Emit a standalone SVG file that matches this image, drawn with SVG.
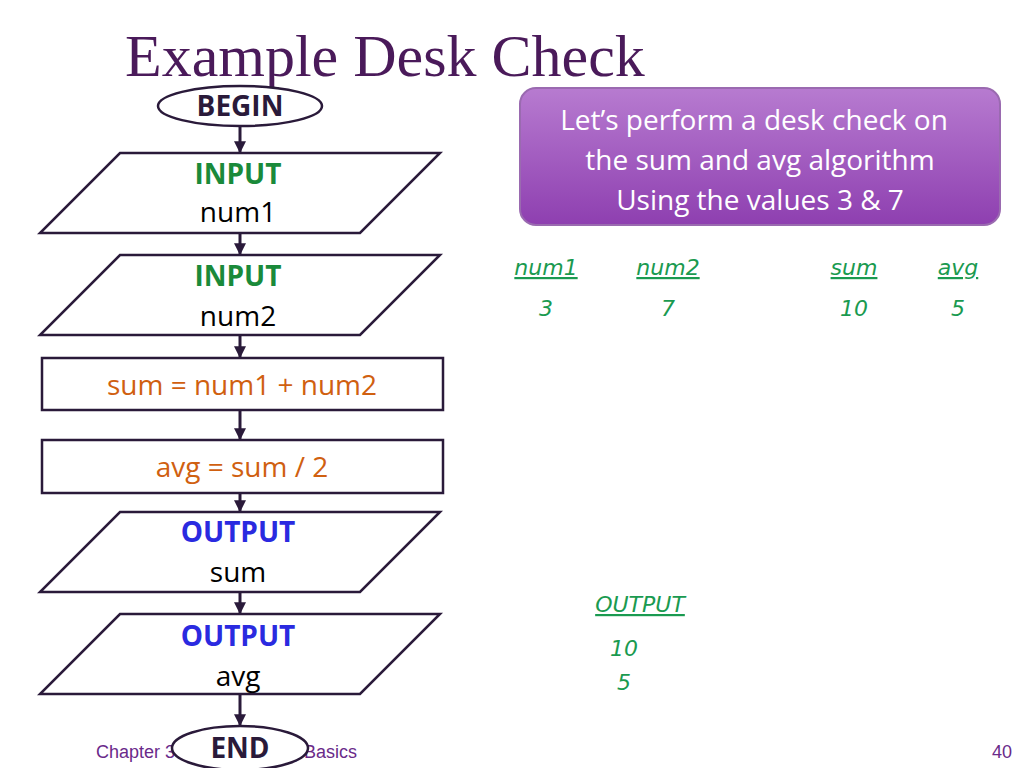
<svg xmlns="http://www.w3.org/2000/svg" width="1024" height="768" viewBox="0 0 1024 768">
<defs>
<marker id="ah" viewBox="0 0 10 10" refX="9" refY="5" markerWidth="4" markerHeight="4" orient="auto"><path d="M0,0 L10,5 L0,10 z" fill="#2a1a3a"/></marker>
<linearGradient id="pg" x1="0" y1="0" x2="0" y2="1"><stop offset="0" stop-color="#b77bd0"/><stop offset="1" stop-color="#8e3fb0"/></linearGradient>
</defs>
<style>
.s{fill:#fff;stroke:#2a1a3a;stroke-width:2.5}
.t{font-family:"Open Sans","Liberation Sans",sans-serif;font-size:28px;text-anchor:middle}
.b{font-weight:bold}
.h{font-family:"DejaVu Sans",sans-serif;font-style:italic;font-size:22px;fill:#1a9a50;text-anchor:middle}
.c{stroke:#2a1a3a;stroke-width:3;marker-end:url(#ah)}
</style>
<rect width="1024" height="768" fill="#fff"/>
<text x="125" y="76" font-family="Liberation Serif,serif" font-size="60" fill="#4a1a5a">Example Desk Check</text>
<text x="96" y="758" font-family="Liberation Sans,sans-serif" font-size="18" fill="#6a2a8a">Chapter 3 - Programming Basics</text>
<text x="1012" y="758" font-family="Liberation Sans,sans-serif" font-size="18" fill="#6a2a8a" text-anchor="end">40</text>
<g id="connectors">
<line class="c" x1="240" y1="126" x2="240" y2="152"/>
<line class="c" x1="240" y1="233" x2="240" y2="254"/>
<line class="c" x1="240" y1="335" x2="240" y2="357"/>
<line class="c" x1="240" y1="410" x2="240" y2="439"/>
<line class="c" x1="240" y1="493" x2="240" y2="511"/>
<line class="c" x1="240" y1="592" x2="240" y2="613"/>
<line class="c" x1="240" y1="694" x2="240" y2="725"/>
</g>
<g id="begin"><ellipse class="s" cx="240" cy="106" rx="82" ry="20"/><text class="t b" x="240" y="116" fill="#2a1a3a" font-size="27">BEGIN</text></g>
<g id="in1"><polygon class="s" points="120,153 440,153 360,233 40,233"/><text class="t b" x="238" y="184" fill="#1a8a3a">INPUT</text><text class="t" x="238" y="222">num1</text></g>
<g id="in2"><polygon class="s" points="120,255 440,255 360,335 40,335"/><text class="t b" x="238" y="286" fill="#1a8a3a">INPUT</text><text class="t" x="238" y="326">num2</text></g>
<g id="p1"><rect class="s" x="42" y="358" width="401" height="52"/><text class="t" x="242" y="395" fill="#d06010">sum = num1 + num2</text></g>
<g id="p2"><rect class="s" x="42" y="440" width="401" height="53"/><text class="t" x="242" y="477" fill="#d06010">avg = sum / 2</text></g>
<g id="out1"><polygon class="s" points="120,512 440,512 360,592 40,592"/><text class="t b" x="238" y="542" fill="#2a2ae0">OUTPUT</text><text class="t" x="238" y="582">sum</text></g>
<g id="out2"><polygon class="s" points="120,614 440,614 360,694 40,694"/><text class="t b" x="238" y="646" fill="#2a2ae0">OUTPUT</text><text class="t" x="238" y="686">avg</text></g>
<g id="end"><ellipse class="s" cx="240" cy="748" rx="68" ry="22"/><text class="t b" x="240" y="758" fill="#2a1a3a" font-size="27">END</text></g>
<g id="callout"><rect x="520" y="88" width="480" height="137" rx="16" fill="url(#pg)" stroke="#9a6ab0" stroke-width="2"/>
<text class="t" x="754" y="130" fill="#fff">Let’s perform a desk check on</text>
<text class="t" x="760" y="170" fill="#fff">the sum and avg algorithm</text>
<text class="t" x="760" y="210" fill="#fff">Using the values 3 &amp; 7</text></g>
<g id="desk">
<text class="h" x="546" y="275" text-decoration="underline">num1</text>
<text class="h" x="668" y="275" text-decoration="underline">num2</text>
<text class="h" x="854" y="275" text-decoration="underline">sum</text>
<text class="h" x="958" y="275" text-decoration="underline">avg</text>
<text class="h" x="546" y="316">3</text>
<text class="h" x="668" y="316">7</text>
<text class="h" x="854" y="316">10</text>
<text class="h" x="958" y="316">5</text>
<text class="h" x="640" y="612" text-decoration="underline">OUTPUT</text>
<text class="h" x="624" y="656">10</text>
<text class="h" x="624" y="690">5</text>
</g>
</svg>
